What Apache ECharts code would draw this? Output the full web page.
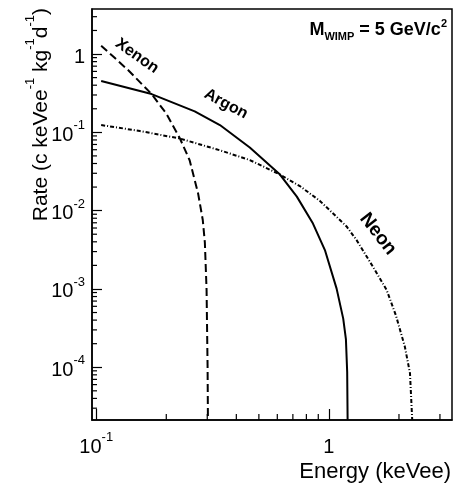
<!DOCTYPE html>
<html>
<head>
<meta charset="utf-8">
<script src="https://cdn.jsdelivr.net/npm/echarts@6/dist/echarts.min.js"></script>
<style>
html, body { margin: 0; padding: 0; background: #fff; }
#chart { width: 455px; height: 488px; }
</style>
</head>
<body>
<div id="chart"></div>
<script>
// energy (keVee) / rate (c keVee^-1 kg^-1 d^-1)
const xenonEnergy = [0.105, 0.120, 0.137, 0.173, 0.200, 0.229, 0.252, 0.274, 0.287, 0.293, 0.298, 0.301, 0.302]
const xenonRate = [1.28, 0.894, 0.625, 0.308, 0.174, 0.0833, 0.044, 0.0166, 0.0076, 0.0039, 0.00097, 0.0001, 0.0000213]

const argonEnergy = [0.105, 0.173, 0.265, 0.340, 0.457, 0.616, 0.728, 0.854, 0.961, 1.079, 1.152, 1.183, 1.198, 1.203]
const argonRate = [0.452, 0.308, 0.185, 0.124, 0.0639, 0.0289, 0.0151, 0.00684, 0.00314, 0.00101, 0.000418, 0.000229, 0.0000868, 0.0000213]

const neonEnergy = [0.105, 0.154, 0.229, 0.340, 0.457, 0.616, 0.750, 0.915, 1.191, 1.315, 1.546, 1.77, 1.94, 2.12, 2.23, 2.28]
const neonRate = [0.124, 0.104, 0.0833, 0.059, 0.0443, 0.0289, 0.0206, 0.0133, 0.00628, 0.0042, 0.00192, 0.00097, 0.00046, 0.000183, 0.000084, 0.0000213]

// axis ranges and minor tick mantissas
const xRange = [0.0959, 3.38]
const yRange = [2.12e-5, 3.76]
const minorSteps = [2, 3, 4, 5, 6, 7, 8, 9]

const FONT = 'Liberation Sans'

const pairs = (xs, ys) => xs.map((x, i) => [x, ys[i]])

// 10^n labels in ROOT style
const powLabel = (v) => {
    const lg = Math.log10(v)
    const e = Math.round(lg)
    if (Math.abs(lg - e) > 1e-6) return ''
    return e === 0 ? '{b|1}' : '{b|10}{s|' + e + '}'
}
const labelRich = {
    b: { fontFamily: FONT, fontSize: 20, color: '#000', lineHeight: 26, verticalAlign: 'bottom' },
    s: { fontFamily: FONT, fontSize: 13, color: '#000', verticalAlign: 'top' }
}

const chart = echarts.init(document.getElementById('chart'))

const option = {
    animation: false,
    grid: {
        left: 92,
        right: 3,
        top: 9,
        bottom: 68,
        show: true,
        borderColor: '#000',
        borderWidth: 1.5
    },
    xAxis: {
        type: 'log',
        logBase: 10,
        min: xRange[0],
        max: xRange[1],
        axisLine: { show: true, lineStyle: { color: '#000', width: 1.5 } },
        axisTick: { show: true, inside: true, length: 11, lineStyle: { color: '#000', width: 1.2 } },
        splitLine: { show: false },
        axisLabel: { margin: 11, formatter: powLabel, rich: labelRich, showMinLabel: false, showMaxLabel: false }
    },
    yAxis: {
        type: 'log',
        logBase: 10,
        min: yRange[0],
        max: yRange[1],
        axisLine: { show: true, lineStyle: { color: '#000', width: 1.5 } },
        axisTick: { show: true, inside: true, length: 10, lineStyle: { color: '#000', width: 1.2 } },
        splitLine: { show: false },
        axisLabel: { margin: 7, formatter: powLabel, rich: labelRich, showMinLabel: false, showMaxLabel: false }
    },
    series: [
        {
            name: 'Xenon',
            type: 'line',
            data: pairs(xenonEnergy, xenonRate),
            showSymbol: false,
            lineStyle: { color: '#000', width: 2, type: [8, 4] }
        },
        {
            name: 'Argon',
            type: 'line',
            data: pairs(argonEnergy, argonRate),
            showSymbol: false,
            lineStyle: { color: '#000', width: 2 }
        },
        {
            name: 'Neon',
            type: 'line',
            data: pairs(neonEnergy, neonRate),
            showSymbol: false,
            lineStyle: { color: '#000', width: 2, type: [4, 2, 1, 2] }
        }
    ]
}

chart.setOption(option)

// minor ticks (2..9 per decade) placed through the axes
const graphics = []
const tickLine = (x1, y1, x2, y2) => ({
    type: 'line',
    shape: { x1: x1, y1: y1, x2: x2, y2: y2 },
    style: { stroke: '#000', lineWidth: 1.2 },
    silent: true,
    z: 100
})
for (let k = -2; k <= 1; k++) {
    minorSteps.forEach((m) => {
        const v = m * Math.pow(10, k)
        if (v <= xRange[0] || v >= xRange[1]) return
        const p = chart.convertToPixel({ gridIndex: 0 }, [v, yRange[0]])
        graphics.push(tickLine(p[0], p[1], p[0], p[1] - 6))
    })
}
for (let k = -6; k <= 1; k++) {
    minorSteps.forEach((m) => {
        const v = m * Math.pow(10, k)
        if (v <= yRange[0] || v >= yRange[1]) return
        const p = chart.convertToPixel({ gridIndex: 0 }, [xRange[0], v])
        graphics.push(tickLine(p[0], p[1], p[0] + 5, p[1]))
    })
}

const deg = Math.PI / 180
const curveLabel = (txt, x, y, angle, size) => ({
    type: 'text',
    x: x,
    y: y,
    rotation: -angle * deg,
    style: {
        text: txt,
        fontFamily: FONT,
        fontWeight: 'bold',
        fontSize: size,
        fill: '#000',
        align: 'center',
        verticalAlign: 'middle'
    }
})
graphics.push(curveLabel('Xenon', 137, 56, 35, 16))
graphics.push(curveLabel('Argon', 226, 104, 28, 16))
graphics.push(curveLabel('Neon', 378, 234, 52, 19))

// M_WIMP annotation
graphics.push({
    type: 'text',
    x: 447,
    y: 30,
    style: {
        text: '{m|M}{sub|WIMP}{m| = 5 GeV/c}{sup|2}',
        align: 'right',
        verticalAlign: 'middle',
        rich: {
            m: { fontFamily: FONT, fontWeight: 'bold', fontSize: 18, fill: '#000', lineHeight: 24, verticalAlign: 'middle' },
            sub: { fontFamily: FONT, fontWeight: 'bold', fontSize: 11, fill: '#000', verticalAlign: 'bottom' },
            sup: { fontFamily: FONT, fontWeight: 'bold', fontSize: 11, fill: '#000', verticalAlign: 'top' }
        }
    }
})

// axis titles
graphics.push({
    type: 'text',
    x: 451,
    y: 472,
    style: {
        text: 'Energy (keVee)',
        fontFamily: FONT,
        fontSize: 22,
        fill: '#000',
        align: 'right',
        verticalAlign: 'middle'
    }
})
graphics.push({
    type: 'text',
    x: 38,
    y: 8,
    rotation: Math.PI / 2,
    style: {
        text: '{t|Rate (c keVee}{s|-1}{t| kg}{s|-1}{t|d}{s|-1}{t|)}',
        align: 'right',
        verticalAlign: 'middle',
        rich: {
            t: { fontFamily: FONT, fontSize: 21, fill: '#000', lineHeight: 28, verticalAlign: 'bottom' },
            s: { fontFamily: FONT, fontSize: 13, fill: '#000', verticalAlign: 'top' }
        }
    }
})

chart.setOption({ graphic: graphics })

window.addEventListener('resize', () => {
    chart.resize()
})
</script>
</body>
</html>
